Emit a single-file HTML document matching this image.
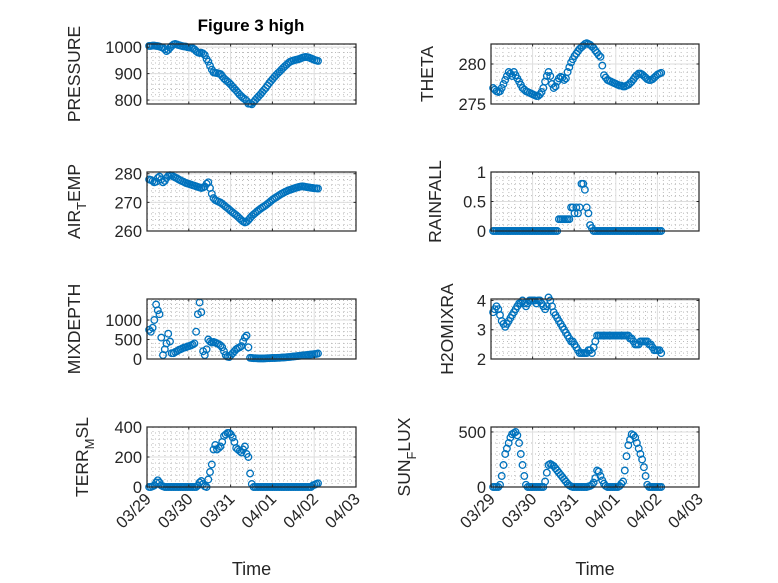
<!DOCTYPE html>
<html><head><meta charset="utf-8"><style>
body{margin:0;background:#fff;}
svg{display:block;font-family:"Liberation Sans",sans-serif;}
</style></head><body>
<svg id="fig" width="778" height="583" viewBox="0 0 778 583"></svg>
<script>
// time offsets (days since 03/29)
const xTickLabels = ["03/29","03/30","03/31","04/01","04/02","04/03"];
const pressure = [1005,1005,1006,1006,1005,1004,1002,1000,998,992,985,990,998,1005,1010,1012,1010,1008,1006,1004,1003,1002,1000,999,
998,996,992,985,980,978,979,976,970,955,945,930,915,905,903,902,900,898,890,882,876,870,865,858,
850,843,836,828,820,814,808,803,797,786,786,784,792,800,808,815,822,830,838,846,855,864,872,880,
888,895,902,908,915,922,928,934,940,945,948,950,952,953,955,957,960,962,963,962,960,957,955,952,950,948];
const theta = [277,276.8,276.6,276.5,276.6,277,277.5,278,278.5,279,278.8,278.5,279,278.6,278.2,277.8,277.4,277,276.8,276.6,276.5,276.4,276.3,276.2,
276.1,276,276,276.2,276.5,277,277.8,278.5,279,278.5,277.5,277,277.2,277.8,278.2,278.4,278.3,278,278.2,279,279.6,280.2,280.6,281,
281.3,281.6,281.9,282.1,282.3,282.5,282.6,282.5,282.4,282.2,282,281.7,281.4,281.1,280.9,279.8,278.6,278.3,278,277.9,277.8,277.7,277.6,277.5,
277.4,277.3,277.3,277.2,277.2,277.3,277.4,277.6,277.8,278.1,278.4,278.6,278.8,278.8,278.7,278.5,278.3,278.1,278,278,278.1,278.3,278.5,278.7,278.8,278.9];
const airTemp = [278,277.8,277.5,277,277.2,278.5,279,278,277,277.5,278.5,279.2,279.5,279.3,279,278.7,278.4,278,277.7,277.4,277.1,276.8,276.6,276.4,
276.2,276,275.8,275.6,275.4,275.2,275,275.2,275.5,276.5,277,275,273,271.5,270.8,270.5,270.2,269.9,269.5,269,268.5,268,267.5,267,
266.5,266,265.5,265,264.4,263.8,263.3,263,263.2,263.8,264.5,265.2,265.8,266.3,266.8,267.3,267.8,268.2,268.6,269,269.5,270,270.5,271,
271.4,271.8,272.2,272.6,273,273.3,273.6,273.9,274.2,274.4,274.6,274.8,275,275.2,275.4,275.5,275.6,275.5,275.4,275.3,275.2,275.1,275,274.9,274.9,274.8];
const rainfall = [0,0,0,0,0,0,0,0,0,0,0,0,0,0,0,0,0,0,0,0,0,0,0,0,
0,0,0,0,0,0,0,0,0,0,0,0,0,0,0.2,0.2,0.2,0.2,0.2,0.2,0.2,0.4,0.4,0.3,
0.4,0.3,0.4,0.8,0.8,0.7,0.4,0.3,0.1,0.05,0,0,0,0,0,0,0,0,0,0,0,0,0,0,
0,0,0,0,0,0,0,0,0,0,0,0,0,0,0,0,0,0,0,0,0,0,0,0,0,0];
const mixDepth = [750,700,800,1000,1400,1250,1150,550,100,250,400,650,450,150,150,180,200,230,250,270,290,300,320,330,
350,370,400,700,1150,1450,1200,200,100,250,500,450,420,440,420,400,380,350,300,200,100,60,50,100,
150,200,250,280,300,330,450,550,600,300,30,25,20,20,18,15,15,15,15,18,20,20,22,25,
25,28,30,32,35,38,40,45,50,55,60,65,70,75,80,85,90,95,100,105,110,115,120,125,130,140];
const h2oMixRa = [3.6,3.7,3.8,3.7,3.5,3.3,3.2,3.1,3.2,3.3,3.4,3.5,3.6,3.7,3.8,3.9,3.9,4.0,3.9,3.8,3.9,4.0,4.0,4.0,
4.0,3.9,4.0,4.0,3.9,3.8,3.7,3.8,4.1,4.0,3.8,3.6,3.5,3.4,3.3,3.2,3.1,3.0,2.9,2.8,2.7,2.6,2.6,2.5,
2.4,2.3,2.2,2.2,2.2,2.2,2.2,2.3,2.3,2.2,2.4,2.6,2.8,2.8,2.8,2.8,2.8,2.8,2.8,2.8,2.8,2.8,2.8,2.8,
2.8,2.8,2.8,2.8,2.8,2.8,2.8,2.7,2.7,2.6,2.5,2.5,2.5,2.6,2.6,2.6,2.6,2.6,2.5,2.5,2.4,2.3,2.3,2.3,2.3,2.2];
const terrMsl = [0,0,5,10,30,45,30,10,5,0,0,0,0,0,0,0,0,0,0,0,0,0,0,0,
0,0,0,0,10,30,40,20,5,0,50,100,150,250,280,250,260,270,300,340,350,360,360,350,
330,300,260,250,240,230,250,270,220,200,90,20,0,0,0,0,0,0,0,0,0,0,0,0,
0,0,0,0,0,0,0,0,0,0,0,0,0,0,0,0,0,0,0,0,0,0,10,15,20,25];
const sunFlux = [0,0,0,0,20,100,200,300,350,400,450,480,490,500,470,400,300,200,100,20,0,0,0,0,
0,0,0,0,0,0,50,130,200,210,200,190,170,150,130,110,90,70,50,30,15,5,0,0,
0,0,0,0,0,0,0,5,10,20,40,80,150,140,100,60,30,10,0,0,0,0,0,0,
0,10,30,50,150,280,380,430,480,470,450,400,350,300,250,180,100,20,0,0,0,0,0,0,0,0];
const t0 = 0.05, dt = 1/24;

const NS="http://www.w3.org/2000/svg";
const svg=document.getElementById('fig');
function el(tag,attrs,parent){const e=document.createElementNS(NS,tag);for(const k in attrs)e.setAttribute(k,attrs[k]);(parent||svg).appendChild(e);return e;}

const panels=[
 {name:'pressure',data:pressure,x0:147,x1:356,y0:44,y1:104,ymin:785,ymax:1012,yt:[800,900,1000],ytl:["800","900","1000"],ym:20,label:'PRESSURE',lx:80},
 {name:'theta',data:theta,x0:491,x1:699,y0:44,y1:104,ymin:275,ymax:282.5,yt:[275,280],ytl:["275","280"],ym:1,label:'THETA',lx:433},
 {name:'air-temp',data:airTemp,x0:147,x1:356,y0:172,y1:231,ymin:260,ymax:280.6,yt:[260,270,280],ytl:["260","270","280"],ym:2,label:'AIR_TEMP',lx:80},
 {name:'rainfall',data:rainfall,x0:491,x1:699,y0:172,y1:231,ymin:0,ymax:1,yt:[0,0.5,1],ytl:["0","0.5","1"],ym:0.1,label:'RAINFALL',lx:441},
 {name:'mixdepth',data:mixDepth,x0:147,x1:356,y0:299,y1:359,ymin:0,ymax:1540,yt:[0,500,1000],ytl:["0","500","1000"],ym:100,label:'MIXDEPTH',lx:80},
 {name:'h2omixra',data:h2oMixRa,x0:491,x1:699,y0:299,y1:359,ymin:2,ymax:4.05,yt:[2,3,4],ytl:["2","3","4"],ym:0.2,label:'H2OMIXRA',lx:453},
 {name:'terr-msl',data:terrMsl,x0:147,x1:356,y0:427,y1:487,ymin:0,ymax:400,yt:[0,200,400],ytl:["0","200","400"],ym:40,label:'TERR_MSL',lx:88,bottom:true},
 {name:'sun-flux',data:sunFlux,x0:491,x1:699,y0:427,y1:487,ymin:0,ymax:545,yt:[0,500],ytl:["0","500"],ym:100,label:'SUN_FLUX',lx:410,bottom:true}
];

panels.forEach(p=>{
 const g=el('g',{});
 
 
 const xs=v=>p.x0+(v/5)*(p.x1-p.x0);
 const ys=v=>p.y1-(v-p.ymin)/(p.ymax-p.ymin)*(p.y1-p.y0);
 el('rect',{x:p.x0,y:p.y0,width:p.x1-p.x0,height:p.y1-p.y0,fill:'#fff'},g);
 for(let d=0;d<5;d++)for(let k=1;k<7;k++){const x=xs(d+k/7);el('line',{x1:x,x2:x,y1:p.y0,y2:p.y1,stroke:'#bbb','stroke-width':1,'stroke-dasharray':'1 3'},g);}
 for(let v=Math.ceil(p.ymin/p.ym)*p.ym;v<=p.ymax+1e-9;v+=p.ym){const y=ys(v);el('line',{x1:p.x0,x2:p.x1,y1:y,y2:y,stroke:'#bbb','stroke-width':1,'stroke-dasharray':'1 3'},g);}
 for(let d=1;d<5;d++){const x=xs(d);el('line',{x1:x,x2:x,y1:p.y0,y2:p.y1,stroke:'#dedede','stroke-width':1},g);}
 p.yt.forEach(v=>{const y=ys(v);el('line',{x1:p.x0,x2:p.x1,y1:y,y2:y,stroke:'#dedede','stroke-width':1},g);});
 p.data.forEach((v,i)=>{
  const c=el('circle',{cx:xs(t0+i*dt).toFixed(1),cy:ys(v).toFixed(1),r:3.3,fill:'none',stroke:'#0072BD','stroke-width':1.3},g);
  
  
 });
 el('rect',{x:p.x0,y:p.y0,width:p.x1-p.x0,height:p.y1-p.y0,fill:'none',stroke:'#262626','stroke-width':1.2},g);
 for(let d=0;d<=5;d++){const x=xs(d);el('line',{x1:x,x2:x,y1:p.y1,y2:p.y1-2.5,stroke:'#262626'},g);el('line',{x1:x,x2:x,y1:p.y0,y2:p.y0+2.5,stroke:'#262626'},g);}
 p.yt.forEach((v,i)=>{const y=ys(v);el('line',{x1:p.x0,x2:p.x0+2.5,y1:y,y2:y,stroke:'#262626'},g);el('line',{x1:p.x1,x2:p.x1-2.5,y1:y,y2:y,stroke:'#262626'},g);
  const t=el('text',{x:p.x0-5,y:y+6,'text-anchor':'end','font-size':16.5,fill:'#262626'},g);t.textContent=p.ytl[i];
  
  });
 const yl=el('text',{transform:`translate(${p.lx},${(p.y0+p.y1)/2}) rotate(-90)`,'text-anchor':'middle','font-size':17.5,fill:'#262626'},g);
 
 
 const parts=p.label.split('_');
 if(parts.length>1){
  const a=el('tspan',{},yl);a.textContent=parts[0];
  const b=el('tspan',{dy:6,'font-size':13},yl);b.textContent=parts[1][0];
  const c=el('tspan',{dy:-6},yl);c.textContent=parts[1].slice(1);
 } else yl.textContent=p.label;
 if(p.bottom){
  xTickLabels.forEach((s,i)=>{const x=xs(i);
   const t=el('text',{transform:`translate(${x+5},${p.y1+13}) rotate(-45)`,'text-anchor':'end','font-size':16.5,fill:'#262626'},g);t.textContent=s;
   
   });
  const xl=el('text',{x:(p.x0+p.x1)/2,y:575,'text-anchor':'middle','font-size':18,fill:'#262626'},g);xl.textContent='Time';
  
  
 }
});
const title=el('text',{x:251,y:31,'text-anchor':'middle','font-size':17,'font-weight':'bold',fill:'#000'});
title.textContent='Figure 3 high';


</script>
</body></html>
